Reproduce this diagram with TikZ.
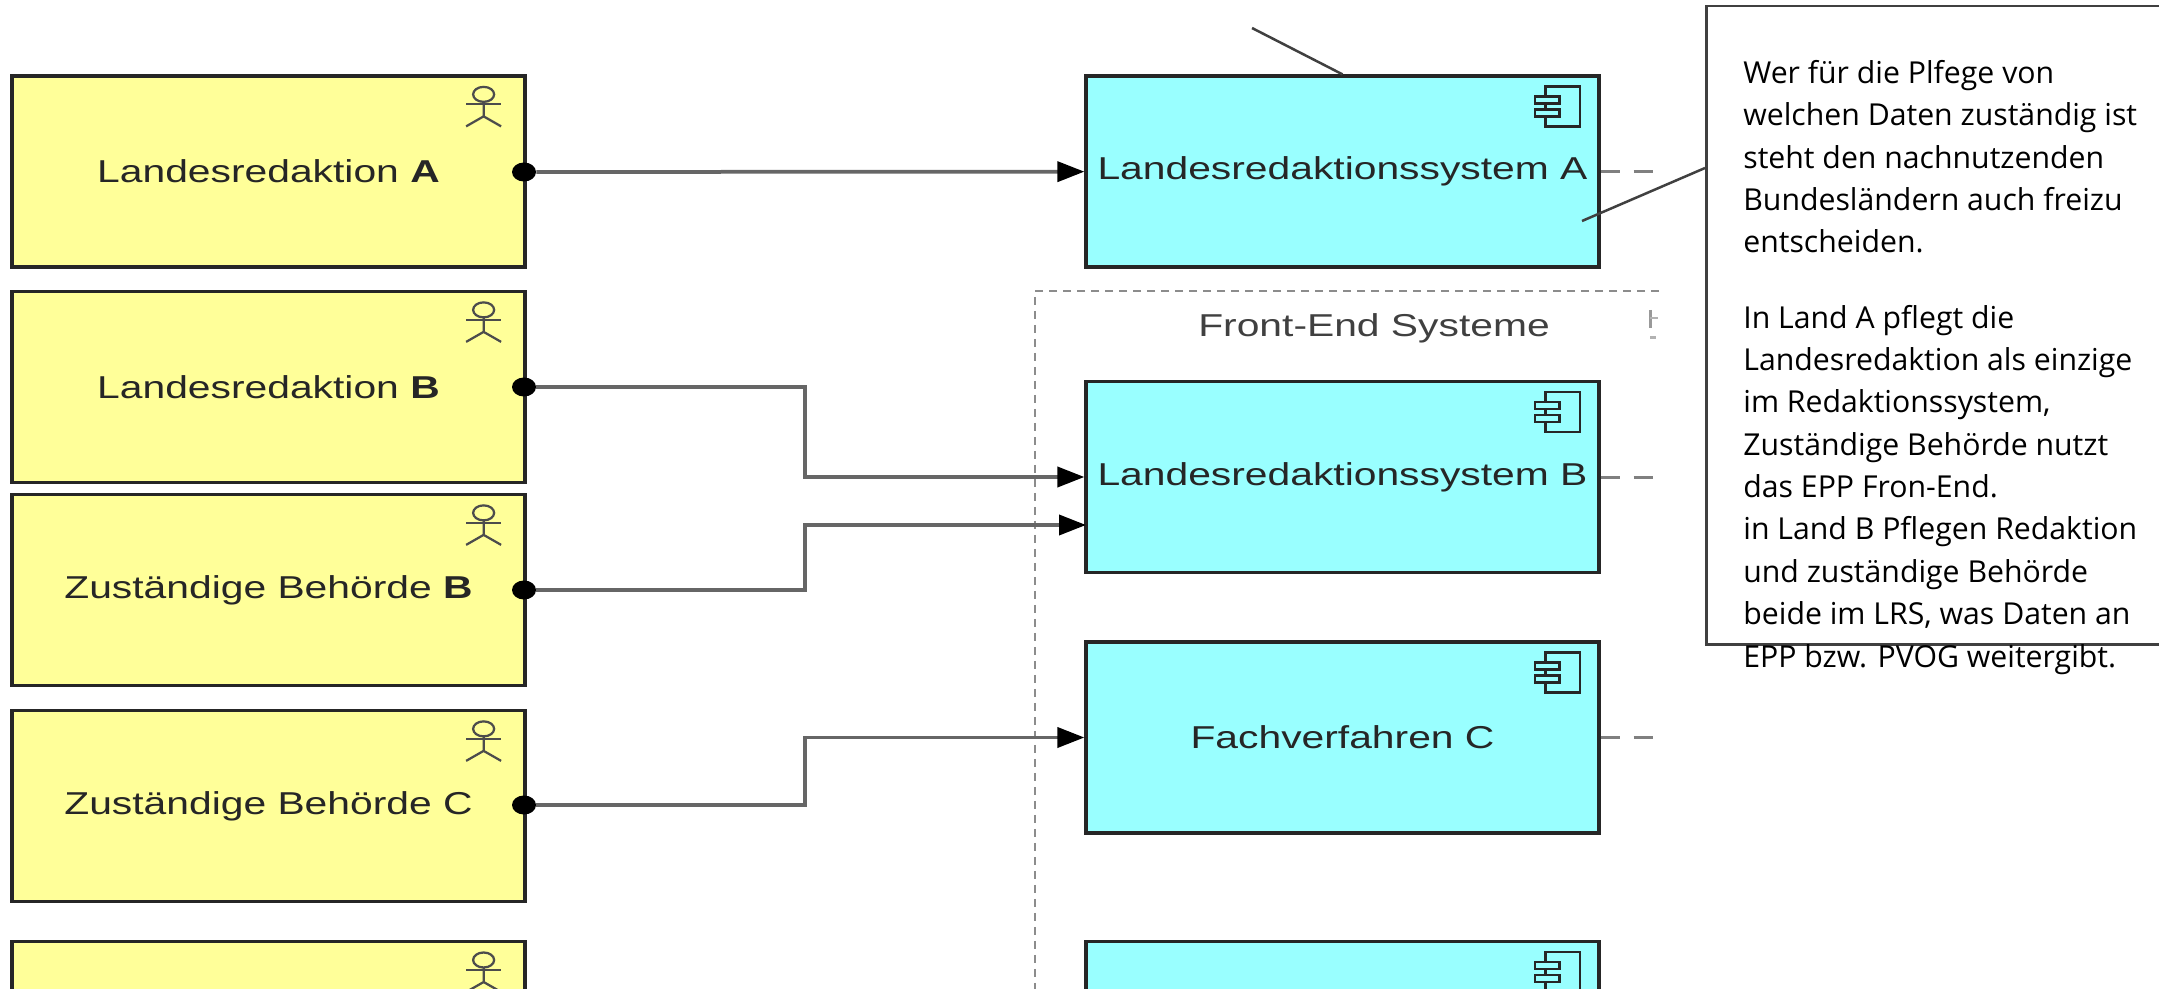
\documentclass[tikz,border=0pt]{standalone}
\usepackage{fontspec}
\setmainfont{Open Sans}
\newfontfamily\labelfont[FakeStretch=1.29]{Liberation Sans}
\usetikzlibrary{arrows.meta,positioning,shapes.geometric}
\definecolor{actorfill}{HTML}{FFFF99}
\definecolor{compfill}{HTML}{99FFFF}
\tikzstyle{actor} = [draw=black!85,line width=0.065cm,fill=actorfill,minimum width=10.26cm,minimum height=3.82cm,inner sep=0,font=\labelfont\fontsize{18}{20}\selectfont,text=black!85]
\tikzstyle{comp} = [draw=black!85,line width=0.065cm,fill=compfill,minimum width=10.26cm,minimum height=3.82cm,inner sep=0,font=\labelfont\fontsize{18}{20}\selectfont,text=black!85]
\tikzstyle{dotend} = [ellipse,fill=black,inner sep=0,minimum width=0.48cm,minimum height=0.38cm]
\tikzstyle{conn} = [draw=black!60,line width=0.075cm,-{Triangle[black,length=0.54cm,width=0.4cm]}]
\tikzstyle{stub} = [draw=black!50,line width=0.06cm,dash pattern=on 0.38cm off 0.28cm]
\tikzstyle{thin} = [draw=black!75,line width=0.05cm]
\newcommand{\actorsym}[1]{% Symbol oben rechts im gelben Kasten
	\begin{scope}[shift={(#1)},draw=black!70,line width=0.045cm]
		\draw (-0.86,-0.4) ellipse (0.21 and 0.15);
		\draw (-0.86,-0.55) -- (-0.86,-0.84) -- (-1.21,-1.04);
		\draw (-0.86,-0.84) -- (-0.51,-1.04);
		\draw (-1.21,-0.6) -- (-0.51,-0.6);
	\end{scope}}
\newcommand{\compsym}[1]{% Symbol oben rechts im blauen Kasten
	\begin{scope}[shift={(#1)},draw=black!85,line width=0.05cm]
		\draw (-1.1,-0.24) rectangle (-0.41,-1.04);
		\draw[fill=compfill] (-1.31,-0.44) rectangle (-0.82,-0.58);
		\draw[fill=compfill] (-1.31,-0.7) rectangle (-0.82,-0.84);
	\end{scope}}

\begin{document}
\begin{tikzpicture}
		\clip (0,0) rectangle (43.18,-19.78);
		
		% Gruppe
		\node[inner sep=0,minimum size=0] (grp) at (20.7,-5.82) {};
		\coordinate (grp-r) at (33.18,-5.82);
		\coordinate (grp-u) at (20.7,-19.78);
		\draw[draw=black!45,line width=0.045cm,dash pattern=on 0.16cm off 0.12cm] (grp-r) -- (grp.center) -- (grp-u);
		\node[font=\labelfont\fontsize{18}{20}\selectfont,text=black!75] (grp-title) at (27.48,-6.56) {Front-End Systeme};
		\draw[draw=black!40,line width=0.06cm] (33.0,-6.2) -- (33.0,-6.56);	% Rest eines Textes am Rand
		\draw[draw=black!30,line width=0.05cm] (33.0,-6.36) -- (33.16,-6.36);
		\draw[draw=black!30,line width=0.06cm] (33.0,-6.76) -- (33.12,-6.76);
		
		% Akteure
		\node[actor] (lrA) at (5.37,-3.43) {Landesredaktion \textbf{A}};
		\node[actor] (lrB) at (5.37,-7.74) {Landesredaktion \textbf{B}};
		\node[actor] (zbB) at (5.37,-11.8) {Zust\"andige Beh\"orde \textbf{B}};
		\node[actor] (zbC) at (5.37,-16.12) {Zust\"andige Beh\"orde C};
		\node[actor,anchor=north] (zbD) at (5.37,-18.8) {};
		
		% Systeme
		\node[comp] (lsA) at (26.85,-3.43) {Landesredaktionssystem A};
		\node[comp] (lsB) at (26.85,-9.54) {Landesredaktionssystem B};
		\node[comp] (fvC) at (26.85,-14.75) {Fachverfahren C};
		\node[comp,anchor=north] (fvD) at (26.85,-18.8) {};
		
		\actorsym{lrA.north east}
		\actorsym{lrB.north east}
		\actorsym{zbB.north east}
		\actorsym{zbC.north east}
		\actorsym{zbD.north east}
		\compsym{lsA.north east}
		\compsym{lsB.north east}
		\compsym{fvC.north east}
		\compsym{fvD.north east}
		
		% Punkte an den Akteuren
		\node[dotend] (dotA) at (10.48,-3.44) {};
		\node[dotend] (dotB) at (10.48,-7.74) {};
		\node[dotend] (dotZB) at (10.48,-11.8) {};
		\node[dotend] (dotZC) at (10.48,-16.1) {};
		
		\coordinate (lsB-in2) at (21.72,-10.5);
		\coordinate (knickB) at (16.1,-9.54);
		\coordinate (knickZB) at (16.1,-10.5);
		\coordinate (knickZC) at (16.1,-14.75);
		
		\draw[conn] (dotA) -- (lsA);
		\draw[conn] (dotB) -| (knickB) -- (lsB);
		\draw[conn] (dotZB) -| (knickZB) -- (lsB-in2);
		\draw[conn] (dotZC) -| (knickZC) -- (fvC);
		
		% gestrichelte Stummel rechts
		\coordinate (stubA) at (33.08,-3.43);
		\coordinate (stubB) at (33.08,-9.54);
		\coordinate (stubC) at (33.08,-14.75);
		\draw[stub] (lsA.east) -- (stubA);
		\draw[stub] (lsB.east) -- (stubB);
		\draw[stub] (fvC.east) -- (stubC);
		
		% Notiz
		\node[draw=black!75,line width=0.05cm,fill=white,anchor=north west,minimum width=9.3cm,minimum height=12.76cm] (note) at (34.1,-0.1) {};
		\node[anchor=north west,align=left,inner sep=0,font=\fontsize{17.2}{24.1}\selectfont] (notetext) at (34.86,-1.2) {Wer f\"ur die Plfege von\\welchen Daten zust\"andig ist\\steht den nachnutzenden\\Bundesl\"andern auch freizu\\entscheiden.\\[0.66cm]In Land A pflegt die\\Landesredaktion als einzige\\im Redaktionssystem,\\Zust\"andige Beh\"orde nutzt\\das EPP Fron-End.\\in Land B Pflegen Redaktion\\und zust\"andige Beh\"orde\\beide im LRS, was Daten an\\EPP bzw. PVOG weitergibt.};
		
		% Linien
		\coordinate (noteTipA) at (31.64,-4.42);
		\coordinate (noteTop) at (25.04,-0.56);
		\draw[thin] (note.west |- 0,-3.36) -- (noteTipA);
		\draw[thin] (noteTop) -- (lsA.north);
		
\end{tikzpicture}
\end{document}
